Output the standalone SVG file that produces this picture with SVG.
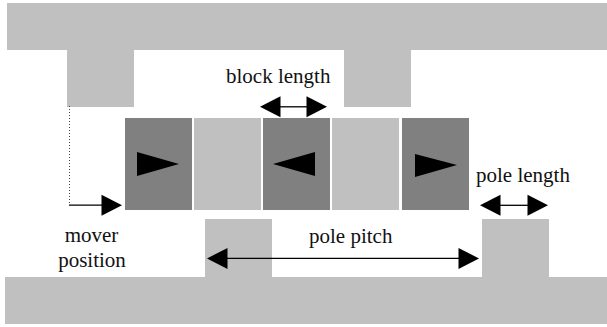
<svg xmlns="http://www.w3.org/2000/svg" width="607" height="327" viewBox="0 0 607 327">
<style>
.iron{fill:#c0c0c0}
.dark{fill:#808080}
.mag{fill:#000}
.dim{stroke:#000;stroke-width:1.300;fill:none}
.lab{font-family:"Liberation Serif","Times New Roman",serif;font-size:21px;fill:#111}
</style>
<defs>
<polygon id="r" points="-20.500,-10.500 0,0 -20.500,10.500" fill="#000"/>
<polygon id="l" points="20.500,-10.500 0,0 20.500,10.500" fill="#000"/>
</defs>
<rect width="607" height="327" fill="#fff"/>
<g id="stator-top"><path class="iron" d="M7 3H607V50H411V107H344V50H134V107H67V50H7Z"/></g>
<g id="stator-bottom"><path class="iron" d="M5 277H205V219H272V277H482V219H549V277H607V324H5Z"/></g>
<g id="block1"><rect class="dark" x="125" y="118" width="67" height="92"/><polygon class="mag" points="137,152 137,176 179,164"/></g>
<g id="block2"><rect class="iron" x="194" y="118" width="67" height="92"/></g>
<g id="block3"><rect class="dark" x="263" y="118" width="67" height="92"/><polygon class="mag" points="315,152 315,176 273,164"/></g>
<g id="block4"><rect class="iron" x="332" y="118" width="67" height="92"/></g>
<g id="block5"><rect class="dark" x="402" y="118" width="67" height="92"/><polygon class="mag" points="415,154 415,177 457,165"/></g>
<g id="connectors">
<path d="M69.500 106V204" stroke="#444" stroke-width="1" stroke-dasharray="1 2" fill="none"/>
<path class="dim" d="M69 205.200H104"/><use href="#r" x="122" y="205.200"/>
<path class="dim" d="M278 106.800H309"/><use href="#l" x="260" y="106.800"/><use href="#r" x="327" y="106.800"/>
<path class="dim" d="M225 258.400H461"/><use href="#l" x="207" y="258.400"/><use href="#r" x="479" y="258.400"/>
<path class="dim" d="M498 205.300H530"/><use href="#l" x="480" y="205.300"/><use href="#r" x="548" y="205.300"/>
</g>
<g id="labels">
<text class="lab" x="226" y="83">block length</text>
<text class="lab" x="476" y="182">pole length</text>
<text class="lab" x="309" y="243">pole pitch</text>
<text class="lab" x="91.500" y="242" text-anchor="middle">mover</text>
<text class="lab" x="92" y="267" text-anchor="middle">position</text>
</g>
</svg>
